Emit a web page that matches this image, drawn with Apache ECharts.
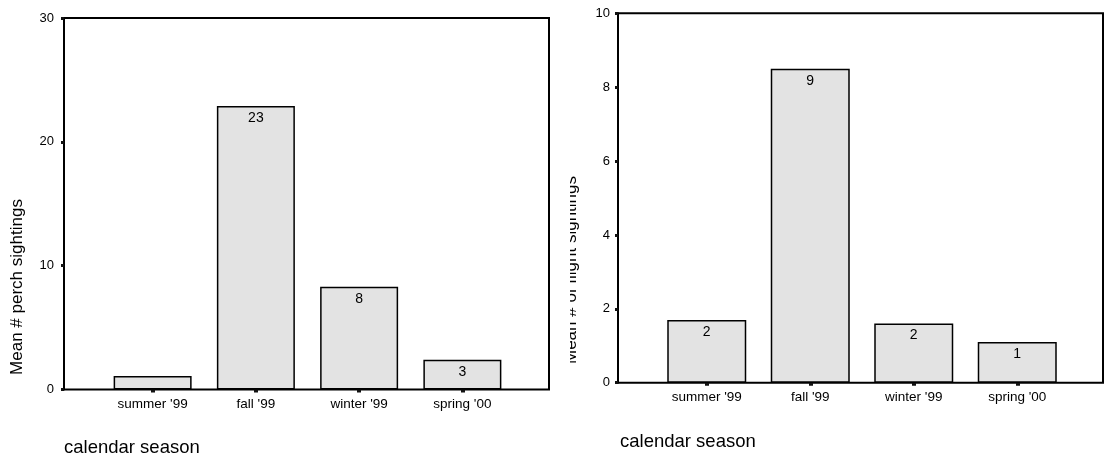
<!DOCTYPE html>
<html>
<head>
<meta charset="utf-8">
<title>Mean sightings by calendar season</title>
<script src="https://cdn.jsdelivr.net/npm/echarts@6/dist/echarts.min.js"></script>
<style>
  html, body { margin: 0; padding: 0; background: #fff; }
  #perch { position: absolute; left: 0; top: 0; width: 570px; height: 459px; }
  #flight { position: absolute; left: 570px; top: 0; width: 536px; height: 459px; }
</style>
</head>
<body>
<div id="perch"></div>
<div id="flight"></div>
<script>
// categories shared by both panels
const seasons = ["summer '99", "fall '99", "winter '99", "spring '00"]

// left panel: mean # perch sightings
const perchMeans = [1.1, 22.9, 8.3, 2.4]
const perchLabels = ['', '23', '8', '3']
const perchAxis = { min: 0, max: 30, interval: 10 }

// right panel: mean # of flight sightings
const flightMeans = [1.7, 8.5, 1.6, 1.1]
const flightLabels = ['2', '9', '2', '1']
const flightAxis = { min: 0, max: 10, interval: 2 }

const FONT = 'Liberation Sans, Arial, sans-serif'

// builds one SPSS-like panel: a framed grid for the y scale and a narrower grid for the bars
function panelOption(cfg) {
  const frame = {
    left: cfg.left,
    top: cfg.top,
    width: cfg.width,
    height: cfg.height,
    show: true,
    borderColor: '#000',
    borderWidth: 2,
    backgroundColor: 'transparent'
  }
  const bars = {
    left: cfg.barsLeft,
    top: cfg.top,
    width: cfg.barsWidth,
    height: cfg.height
  }
  return {
    backgroundColor: '#fff',
    animation: false,
    textStyle: { fontFamily: FONT },
    grid: [frame, bars],
    xAxis: [
      { type: 'value', gridIndex: 0, show: false, min: 0, max: 1 },
      {
        type: 'category',
        gridIndex: 1,
        data: seasons,
        boundaryGap: true,
        axisLine: { show: false },
        axisTick: {
          show: true,
          alignWithLabel: true,
          length: 3,
          lineStyle: { color: '#111', width: 4 }
        },
        axisLabel: { margin: 8, fontSize: 13.5, color: '#000', fontFamily: FONT },
        splitLine: { show: false }
      }
    ],
    yAxis: [
      {
        type: 'value',
        gridIndex: 0,
        min: cfg.axis.min,
        max: cfg.axis.max,
        interval: cfg.axis.interval,
        axisLine: { show: true, lineStyle: { color: '#000', width: 2 } },
        axisTick: { show: true, length: 3, lineStyle: { color: '#111', width: 3 } },
        axisLabel: { margin: cfg.labelMargin, fontSize: 13, color: '#000', fontFamily: FONT },
        splitLine: { show: false }
      },
      {
        type: 'value',
        gridIndex: 1,
        min: cfg.axis.min,
        max: cfg.axis.max,
        show: false
      }
    ],
    series: [
      {
        type: 'bar',
        xAxisIndex: 1,
        yAxisIndex: 1,
        data: cfg.values,
        barWidth: cfg.barWidth,
        itemStyle: { color: '#e3e3e3', borderColor: '#000', borderWidth: 1.5 },
        label: {
          show: true,
          position: 'insideTop',
          distance: 5,
          color: '#000',
          fontSize: 14,
          fontFamily: FONT,
          formatter: (p) => cfg.labels[p.dataIndex]
        }
      }
    ],
    graphic: [
      {
        type: 'text',
        x: cfg.yTitleX,
        y: cfg.yTitleY,
        rotation: Math.PI / 2,
        style: {
          text: cfg.yTitle,
          fill: '#000',
          font: '17px ' + FONT,
          align: 'center',
          verticalAlign: 'middle'
        }
      },
      {
        type: 'text',
        x: cfg.xTitleX,
        y: cfg.xTitleY,
        style: {
          text: 'calendar season',
          fill: '#000',
          font: '18.5px ' + FONT,
          align: 'left',
          verticalAlign: 'middle'
        }
      }
    ]
  }
}

const perchChart = echarts.init(document.getElementById('perch'))
perchChart.setOption(panelOption({
  left: 64,
  top: 18,
  width: 485,
  height: 371.5,
  barsLeft: 101,
  barsWidth: 413,
  barWidth: 78,
  labelMargin: 10,
  axis: perchAxis,
  values: perchMeans,
  labels: perchLabels,
  yTitle: 'Mean # perch sightings',
  yTitleX: 17,
  yTitleY: 287,
  xTitleX: 64,
  xTitleY: 448
}))

const flightChart = echarts.init(document.getElementById('flight'))
flightChart.setOption(panelOption({
  left: 48,
  top: 13.3,
  width: 485,
  height: 369.4,
  barsLeft: 85,
  barsWidth: 414,
  barWidth: 79,
  labelMargin: 8,
  axis: flightAxis,
  values: flightMeans,
  labels: flightLabels,
  yTitle: 'Mean # of flight sightings',
  yTitleX: 1,
  yTitleY: 270,
  xTitleX: 50,
  xTitleY: 442
}))
</script>
</body>
</html>
